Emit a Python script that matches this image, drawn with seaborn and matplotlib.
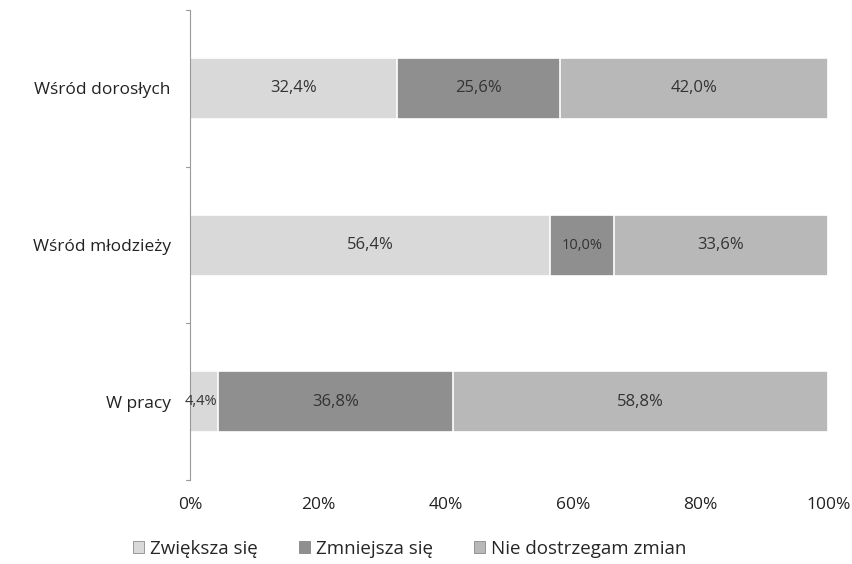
import pandas as pd
import matplotlib.pyplot as plt
import seaborn as sns

# dane
kategorie = ['Wśród dorosłych', 'Wśród młodzieży', 'W pracy']
zwieksza = [32.4, 56.4, 4.4]
zmniejsza = [25.6, 10.0, 36.8]
bez_zmian = [42.0, 33.6, 58.8]
serie = ['Zwiększa się', 'Zmniejsza się', 'Nie dostrzegam zmian']
kolory = ['#d9d9d9', '#8f8f8f', '#b8b8b8']

df = pd.DataFrame({'kat': kategorie, 'a': zwieksza, 'b': zmniejsza, 'c': bez_zmian})
df['ab'] = df['a'] + df['b']
df['abc'] = df['ab'] + df['c']

sns.set_style('white')
plt.rcParams['font.family'] = ['Open Sans', 'DejaVu Sans']

fig = plt.figure(figsize=(8.53, 5.64), dpi=100)
ax = fig.add_axes([0.223, 0.149, 0.748, 0.833])

# nakładanie skumulowanych słupków
for kol, c in [('abc', kolory[2]), ('ab', kolory[1]), ('a', kolory[0])]:
    sns.barplot(data=df, x=kol, y='kat', orient='h', color=c, width=0.39,
                edgecolor='white', linewidth=1.2, ax=ax)

# etykiety
for i, row in df.iterrows():
    starts = [0, row['a'], row['ab']]
    vals = [row['a'], row['b'], row['c']]
    for s, v in zip(starts, vals):
        txt = f'{v:.1f}%'.replace('.', ',')
        fs = 12 if v >= 15 else 10.5
        x = s + v / 2 if v > 6 else s + v / 2 - 0.5
        ax.text(x, i, txt, ha='center', va='center', fontsize=fs, color='#333333')

ax.set_xlim(0, 100)
ax.set_ylim(2.5, -0.5)
ax.set_xticks([0, 20, 40, 60, 80, 100])
ax.set_xticklabels(['0%', '20%', '40%', '60%', '80%', '100%'], fontsize=12.5, color='#222222')
ax.set_yticks([0, 1, 2])
ax.set_yticklabels(kategorie, fontsize=12.5, color='#222222')
ax.tick_params(axis='x', length=0, pad=12)
ax.tick_params(axis='y', length=0, pad=14)
ax.set_xlabel('')
ax.set_ylabel('')
for s in ['top', 'right', 'bottom']:
    ax.spines[s].set_visible(False)
ax.spines['left'].set_color('#999999')
# małe kreski na osi y między kategoriami
for yy in [-0.5, 0.5, 1.5, 2.5]:
    ax.plot([-0.6, 0], [yy, yy], color='#999999', lw=0.8, clip_on=False)

uchwyty = [plt.Rectangle((0, 0), 1, 1, facecolor=k, edgecolor='#777777', linewidth=0.5) for k in kolory]
fig.legend(uchwyty, serie, loc='center', bbox_to_anchor=(0.48, 0.027), ncol=3,
           frameon=False, fontsize=13.5, handlelength=0.6, handleheight=0.6,
           handletextpad=0.3, columnspacing=2.2)

plt.savefig('out.png', dpi=100)
